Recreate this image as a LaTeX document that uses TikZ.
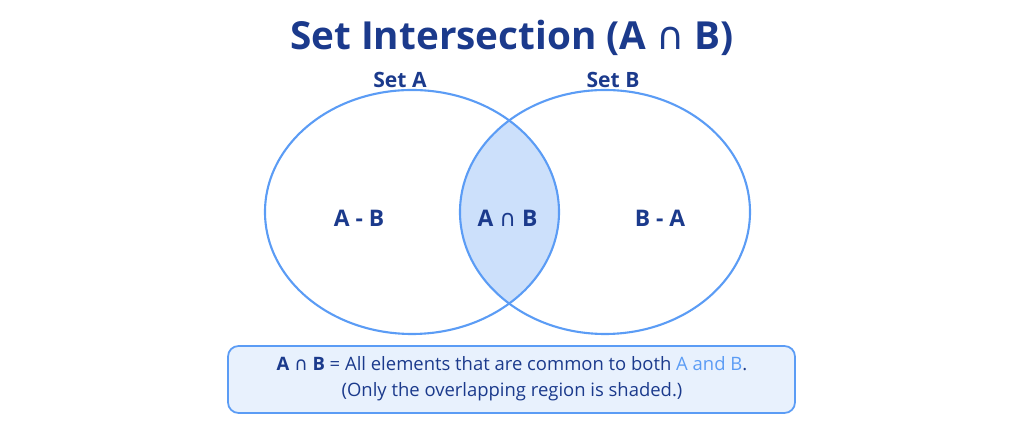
\documentclass[tikz,border=0pt]{standalone}
\usepackage{fontspec}
\setmainfont{Open Sans}
\newfontfamily\capf{DejaVu Sans}
\definecolor{navy}{HTML}{1B3A8C}
\definecolor{edge}{HTML}{5B9CF5}
\definecolor{lensfill}{HTML}{CCE0FB}
\definecolor{boxfill}{HTML}{E8F1FD}
\newcommand{\mycap}{{\capf\mdseries ∩}}
\begin{document}
\begin{tikzpicture}
\useasboundingbox (0,0) rectangle (20.48,8.78);
\tikzset{lab/.style={text=navy,font=\bfseries\fontsize{13}{15}\selectfont},
 setlab/.style={text=navy,font=\bfseries\fontsize{12}{14}\selectfont},
 circ/.style={draw=edge,line width=1.2pt}}
\node[text=navy,font=\bfseries\fontsize{22}{26}\selectfont] (title) at (10.24,8.02) {Set Intersection (A \mycap\ B)};
\begin{scope}
\clip (8.24,4.54) ellipse [x radius=2.94,y radius=2.44];
\fill[lensfill] (12.1,4.54) ellipse [x radius=2.9,y radius=2.44];
\end{scope}
\draw[circ] (8.24,4.54) ellipse [x radius=2.94,y radius=2.44];
\draw[circ] (12.1,4.54) ellipse [x radius=2.9,y radius=2.44];
\node[setlab] (sa) at (8.0,7.18) {Set A};
\node[setlab] (sb) at (12.26,7.18) {Set B};
\node[lab] (amb) at (7.18,4.42) {A - B};
\node[lab] (ab) at (10.15,4.42) {A \mycap\ B};
\node[lab] (bma) at (13.2,4.42) {B - A};
\draw[edge,fill=boxfill,line width=1pt,rounded corners=6pt] (4.56,0.52) rectangle (15.9,1.86);
\node[font=\fontsize{10.5}{13}\selectfont,text=navy,align=center] (note) at (10.24,1.2)
 {\textbf{A} \mycap\ \textbf{B} = All elements that are common to both {\color{edge}A and B}.\\[2pt]
 (Only the overlapping region is shaded.)};
\end{tikzpicture}
\end{document}
